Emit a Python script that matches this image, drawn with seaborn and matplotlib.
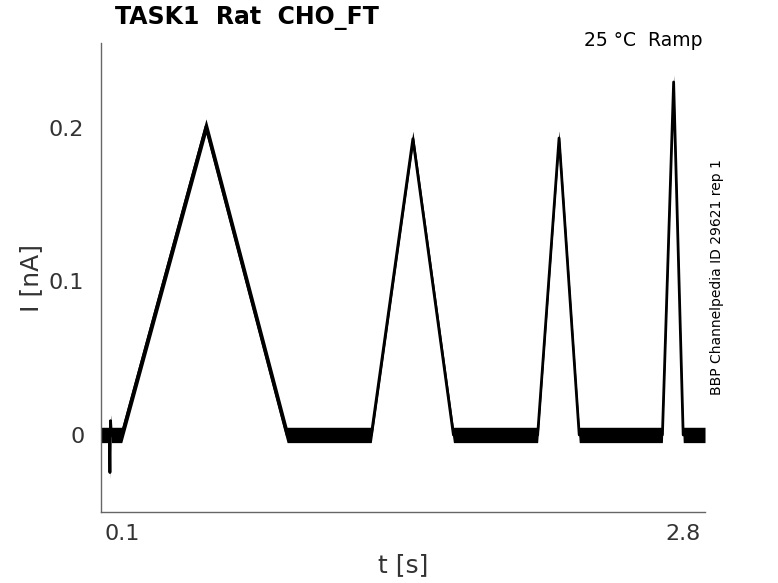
import numpy as np
import pandas as pd
import seaborn as sns
from matplotlib import pyplot as plt

# trace vertices (t in s, I in nA)
t_pts = [0.0, 0.040, 0.043, 0.046, 0.050, 0.100, 0.505, 0.895,
         1.300, 1.500, 1.695, 2.100, 2.203, 2.300, 2.700, 2.754, 2.800, 2.905]
i_pts = [0.0, 0.0, -0.0245, 0.0093, 0.0, 0.0, 0.201, 0.0,
         0.0, 0.193, 0.0, 0.0, 0.1935, 0.0, 0.0, 0.230, 0.0, 0.0]
noise_half = 0.005   # half height of the noise band on the trace

x_ticks = [0.1, 2.8]
x_tick_labels = ['0.1', '2.8']
y_ticks = [0, 0.1, 0.2]
y_tick_labels = ['0', '0.1', '0.2']

df = pd.DataFrame({'t': t_pts, 'I': i_pts})

sns.set_style('white')
plt.rcParams['font.family'] = ['DejaVu Sans']

fig = plt.figure(figsize=(7.78, 5.83), dpi=100)
ax = fig.add_axes([0.1298, 0.1218, 0.7764, 0.8044])

# noise band: dense sampling of the same piecewise trace
tt = np.linspace(df['t'].min(), df['t'].max(), 4000)
ii = np.interp(tt, df['t'], df['I'])
ax.fill_between(tt, ii - noise_half, ii + noise_half, color='black', lw=0)
sns.lineplot(data=df, x='t', y='I', ax=ax, color='black', lw=2.0,
             estimator=None, sort=False)

ax.set_xlim(0.0, 2.905)
ax.set_ylim(-0.0502, 0.2554)
ax.set_xticks(x_ticks)
ax.set_xticklabels(x_tick_labels)
ax.set_yticks(y_ticks)
ax.set_yticklabels(y_tick_labels)

for s in ['top', 'right']:
    ax.spines[s].set_visible(False)
for s in ['left', 'bottom']:
    ax.spines[s].set_color('#666666')
    ax.spines[s].set_linewidth(1.0)

ax.tick_params(axis='both', direction='in', length=5, width=0.8,
               color='#666666', labelsize=16, labelcolor='#333333')
ax.tick_params(axis='y', pad=12)
ax.tick_params(axis='x', pad=9)

ax.set_xlabel('t [s]', fontsize=18, color='#333333', labelpad=6)
ax.set_ylabel('I [nA]', fontsize=18, color='#333333', labelpad=4)

fig.text(115 / 778, 1 - 18 / 583, 'TASK1  Rat  CHO_FT', fontsize=17,
         fontweight='bold', ha='left', va='center', color='black')
fig.text(703 / 778, 1 - 40 / 583, '25 °C  Ramp', fontsize=13.5,
         ha='right', va='center', color='black')
fig.text(717 / 778, 1 - 277 / 583, 'BBP Channelpedia ID 29621 rep 1',
         fontsize=10, rotation=90, ha='center', va='center', color='black')

fig.savefig('out.png', dpi=100)
